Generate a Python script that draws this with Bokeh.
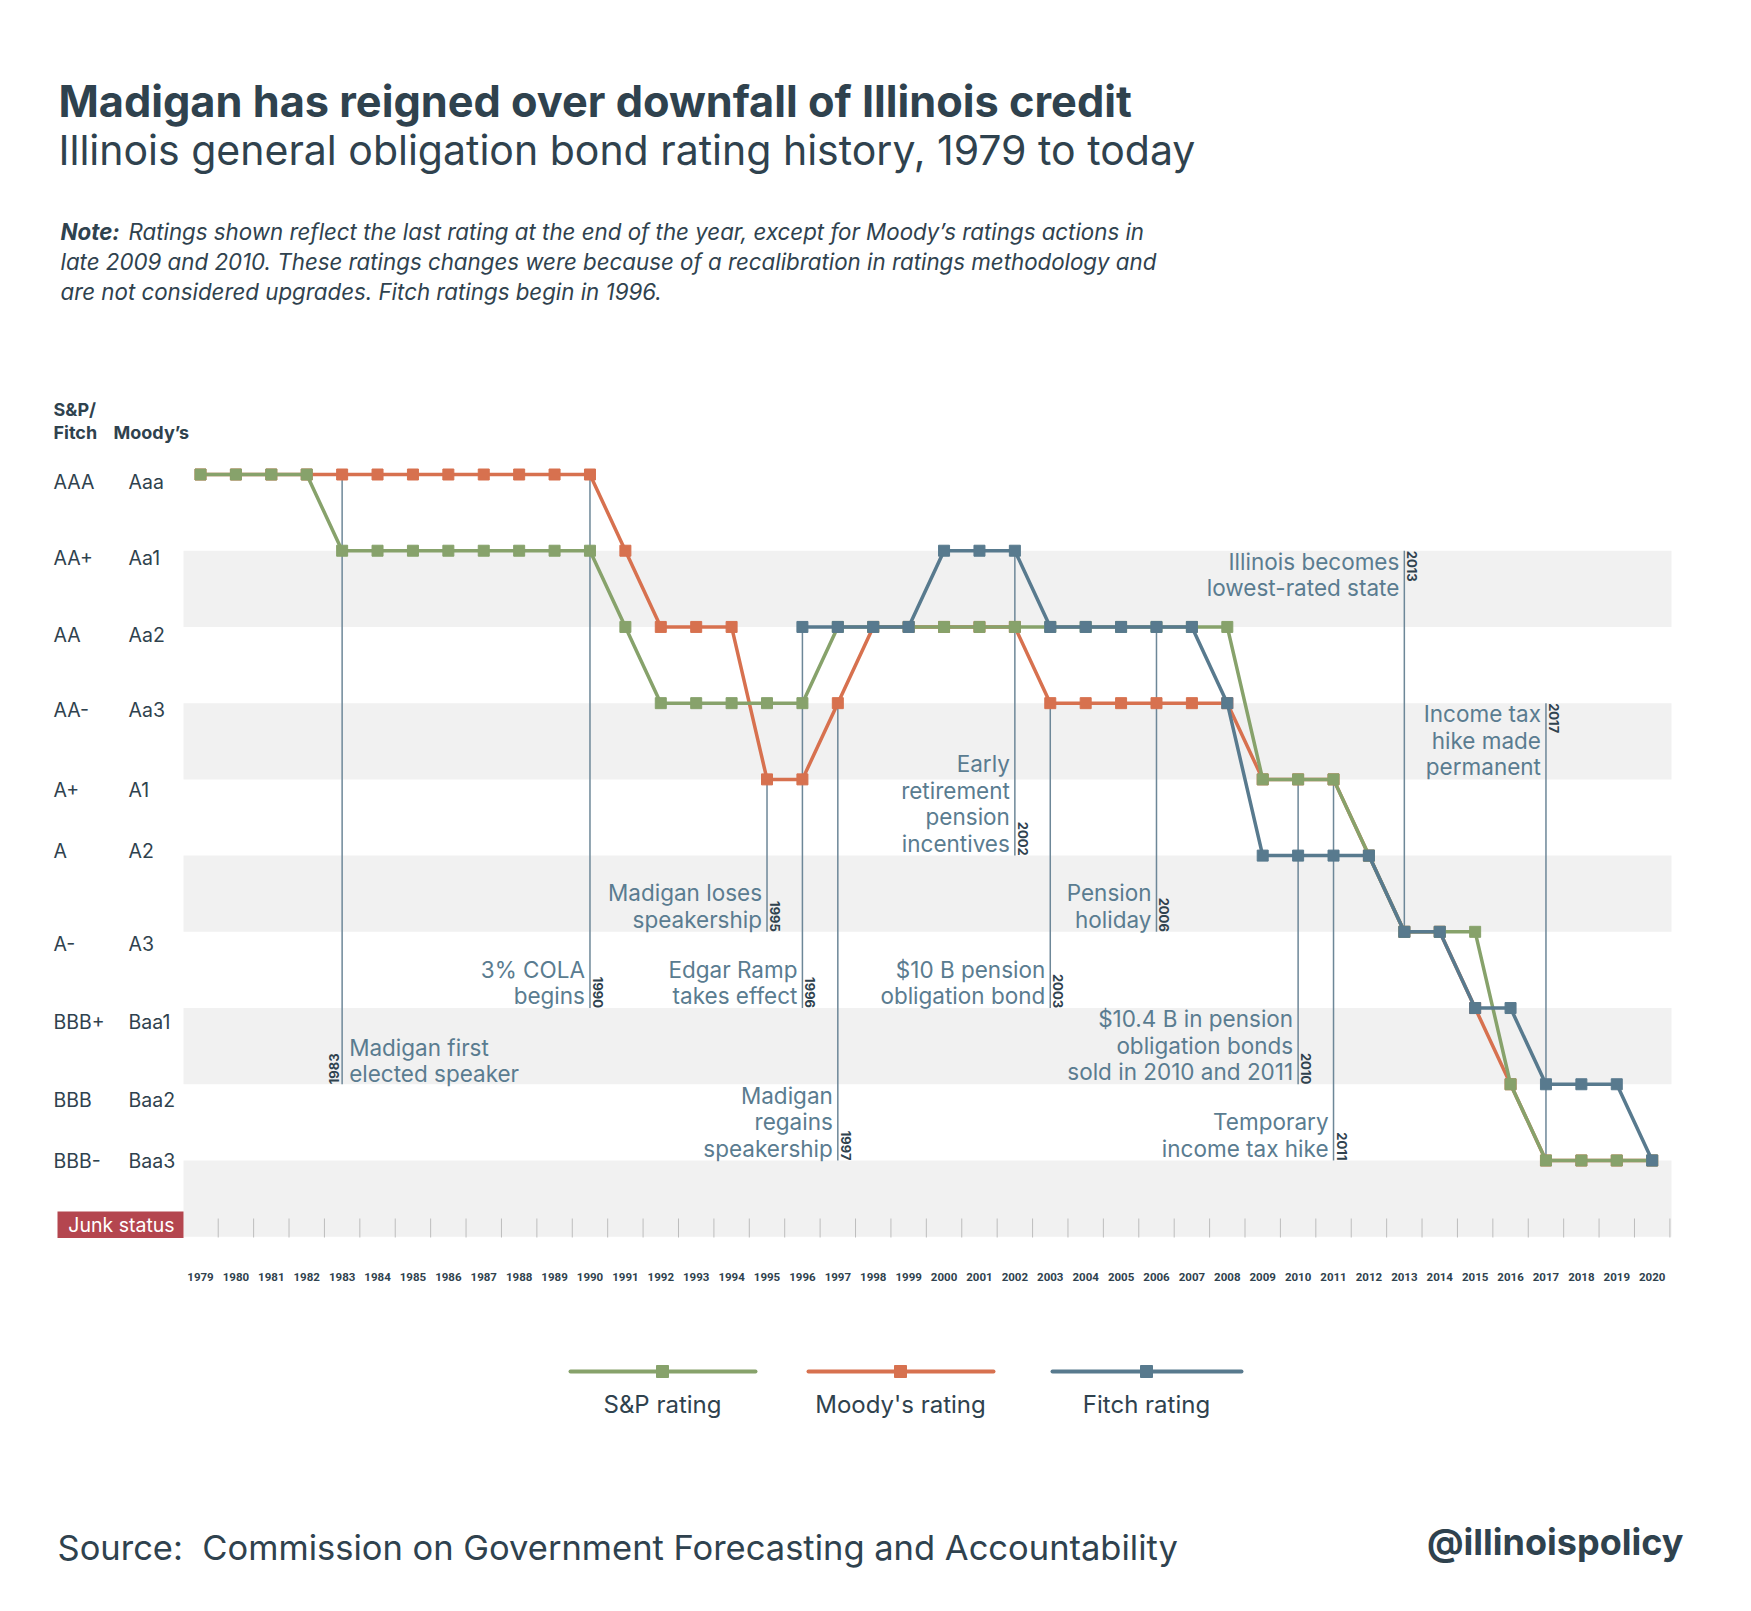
import math
from bokeh.plotting import figure
from bokeh.models import Range1d, ColumnDataSource
from bokeh.core.properties import value
from bokeh.embed import file_html
from bokeh.resources import INLINE

# ---------------- data ----------------
years = list(range(1979, 2021))

sp_rating = ["AAA", "AAA", "AAA", "AAA",                                   # 1979-1982
             "AA+", "AA+", "AA+", "AA+", "AA+", "AA+", "AA+", "AA+",       # 1983-1990
             "AA",                                                         # 1991
             "AA-", "AA-", "AA-", "AA-", "AA-",                            # 1992-1996
             "AA", "AA", "AA", "AA", "AA", "AA", "AA", "AA", "AA", "AA", "AA", "AA",  # 1997-2008
             "A+", "A+", "A+",                                             # 2009-2011
             "A", "A-", "A-", "A-", "BBB",                                 # 2012-2016
             "BBB-", "BBB-", "BBB-", "BBB-"]                               # 2017-2020

moodys_rating = ["Aaa", "Aaa", "Aaa", "Aaa", "Aaa", "Aaa", "Aaa", "Aaa", "Aaa", "Aaa", "Aaa", "Aaa",  # 1979-1990
                 "Aa1",                                                    # 1991
                 "Aa2", "Aa2", "Aa2",                                      # 1992-1994
                 "A1", "A1",                                               # 1995-1996
                 "Aa3",                                                    # 1997
                 "Aa2", "Aa2", "Aa2", "Aa2", "Aa2",                        # 1998-2002
                 "Aa3", "Aa3", "Aa3", "Aa3", "Aa3", "Aa3",                 # 2003-2008
                 "A1", "A1", "A1",                                         # 2009-2011
                 "A2", "A3", "A3", "Baa1", "Baa2",                         # 2012-2016
                 "Baa3", "Baa3", "Baa3", "Baa3"]                           # 2017-2020

fitch_rating = [None] * 17 + [                                             # 1979-1995: none
                "AA", "AA", "AA", "AA",                                    # 1996-1999
                "AA+", "AA+", "AA+",                                       # 2000-2002
                "AA", "AA", "AA", "AA", "AA",                              # 2003-2007
                "AA-",                                                     # 2008
                "A", "A", "A", "A",                                        # 2009-2012
                "A-", "A-",                                                # 2013-2014
                "BBB+", "BBB+",                                            # 2015-2016
                "BBB", "BBB", "BBB",                                       # 2017-2019
                "BBB-"]                                                    # 2020

sp_scale = ["AAA", "AA+", "AA", "AA-", "A+", "A", "A-", "BBB+", "BBB", "BBB-"]
moodys_scale = ["Aaa", "Aa1", "Aa2", "Aa3", "A1", "A2", "A3", "Baa1", "Baa2", "Baa3"]

event_years = [1983, 1990, 1995, 1996, 1997, 2002, 2003, 2006, 2010, 2011, 2013, 2017]
event_texts = [
    ["Madigan first", "elected speaker"],
    ["3% COLA", "begins"],
    ["Madigan loses", "speakership"],
    ["Edgar Ramp", "takes effect"],
    ["Madigan", "regains", "speakership"],
    ["Early", "retirement", "pension", "incentives"],
    ["$10 B pension", "obligation bond"],
    ["Pension", "holiday"],
    ["$10.4 B in pension", "obligation bonds", "sold in 2010 and 2011"],
    ["Temporary", "income tax hike"],
    ["Illinois becomes", "lowest-rated state"],
    ["Income tax", "hike made", "permanent"],
]
# layout of the event markers (rating level of top / bottom of the rule, where the text sits)
event_top = ["Aaa", "Aaa", "A1", "Aa2", "Aa3", "Aa1", "Aa3", "Aa2", "A1", "A1", "Aa1", "Aa3"]
event_bottom = ["Baa2", "Baa1", "A3", "Baa1", "Baa3", "A2", "Baa1", "A3", "Baa2", "Baa3", "A3", "Baa3"]
event_anchor = ["bottom"] * 10 + ["top", "top"]

series_names = ["S&P rating", "Moody's rating", "Fitch rating"]

title = "Madigan has reigned over downfall of Illinois credit"
subtitle = "Illinois general obligation bond rating history, 1979 to today"
note_lines = ["Ratings shown reflect the last rating at the end of the year, except for Moody\u2019s ratings actions in",
              "late 2009 and 2010. These ratings changes were because of a recalibration in ratings methodology and",
              "are not considered upgrades. Fitch ratings begin in 1996."]
source = "Source:\u00a0 Commission on Government Forecasting and Accountability"
handle = "@illinoispolicy"

# ---------------- styling ----------------
GREEN = "#87a26b"
RED = "#d7714f"
BLUE = "#587a8e"
DARK = "#2f424e"
ANN = "#5a7c90"
RULE = "#6d8798"
BAND = "#f1f1f1"
JUNK = "#b4464f"
FONT = value("Inter")

W, H = 1751, 1611
X0_PX, DX = 200.0, 35.407      # pixel of 1979, pixels per year
Y0_PX, DY = 474.0, 76.22       # pixel of top rating, pixels per notch


def px2x(px):
    return 1979 + (px - X0_PX) / DX


def px2y(py):
    return 10 - (py - Y0_PX) / DY


def y2px(v):
    return Y0_PX + (10 - v) * DY


def x2px(x):
    return X0_PX + (x - 1979) * DX


def bl(py, fs):
    # baseline correction for rendered alphabetic text
    return px2y(py - 0.33 * fs)


lvl = {}
for i, (s, m) in enumerate(zip(sp_scale, moodys_scale)):
    lvl[s] = 10 - i
    lvl[m] = 10 - i


def to_num(lst):
    return [lvl[r] if r is not None else float("nan") for r in lst]


p = figure(width=W, height=H, x_range=Range1d(px2x(0), px2x(W)), y_range=Range1d(px2y(H), px2y(0)),
           output_backend="svg", toolbar_location=None, x_axis_type=None, y_axis_type=None,
           min_border=0, background_fill_color="white", border_fill_color="white")
p.outline_line_color = None
p.grid.visible = False

# shaded bands
band_pairs = [(9, 8), (7, 6), (5, 4), (3, 2), (1, 0)]
p.quad(left=[px2x(183)] * 5, right=[px2x(1671)] * 5,
       top=[a for a, b in band_pairs], bottom=[b for a, b in band_pairs],
       fill_color=BAND, line_color=None)

# junk status box
p.quad(left=[px2x(57)], right=[px2x(183)], top=[px2y(1211)], bottom=[px2y(1237.5)],
       fill_color=JUNK, line_color=None)
p.text(x=[px2x(121)], y=[px2y(1224)], text=["Junk status"], text_font=FONT, text_font_size="19.5px",
       text_color="white", text_align="center", text_baseline="middle")

# tick marks between years
tick_x = [y + 0.5 for y in years]
p.segment(x0=tick_x, x1=tick_x, y0=[px2y(1218)] * len(tick_x), y1=[px2y(1237)] * len(tick_x),
          line_color="#bdbdbd", line_width=1)

# year labels
p.text(x=years, y=[px2y(1276)] * len(years), text=[str(y) for y in years], text_font=value("Roboto"),
       text_font_size="11.5px", text_font_style="bold", text_color=DARK, text_align="center",
       text_baseline="middle")

# rating labels
FS_LAB = 19.5
label_dy = [14, 14, 14, 13, 17, 2, 19, 20, 22, 7]
lab_y = [bl(y2px(10 - i) + label_dy[i], FS_LAB) for i in range(10)]
p.text(x=[px2x(53)] * 10, y=lab_y, text=sp_scale, text_font=FONT, text_font_size=f"{FS_LAB}px",
       text_color=DARK, text_baseline="alphabetic")
p.text(x=[px2x(128)] * 10, y=lab_y, text=moodys_scale, text_font=FONT, text_font_size=f"{FS_LAB}px",
       text_color=DARK, text_baseline="alphabetic")
p.text(x=[px2x(53), px2x(53), px2x(113)], y=[bl(415, 18), bl(438, 18), bl(438, 18)],
       text=["S&P/", "Fitch", "Moody\u2019s"], text_font=FONT, text_font_size="18px",
       text_font_style="bold", text_color=DARK, text_baseline="alphabetic")

# event rules
p.segment(x0=event_years, x1=event_years, y0=[lvl[t] for t in event_top], y1=[lvl[b] for b in event_bottom],
          line_color=RULE, line_width=1.5)

# event texts and year tags
FS_ANN = 22.5
tx, ty, tt, ta = [], [], [], []
yx, yy, yt, yang, yal = [], [], [], [], []
LS = 26.5
for yr, lines, top, bot, anc in zip(event_years, event_texts, event_top, event_bottom, event_anchor):
    lx = x2px(yr)
    if yr == 1983:
        base = y2px(lvl[bot]) - 3
        for k, line in enumerate(lines):
            tx.append(px2x(lx + 7)); ty.append(bl(base - (len(lines) - 1 - k) * LS, FS_ANN)); tt.append(line); ta.append("left")
        yx.append(px2x(lx - 3)); yy.append(lvl[bot]); yt.append(str(yr)); yang.append(math.pi / 2); yal.append("left")
    elif anc == "bottom":
        base = y2px(lvl[bot]) - 5
        for k, line in enumerate(lines):
            tx.append(px2x(lx - 5)); ty.append(bl(base - (len(lines) - 1 - k) * LS, FS_ANN)); tt.append(line); ta.append("right")
        yx.append(px2x(lx + 3)); yy.append(lvl[bot]); yt.append(str(yr)); yang.append(-math.pi / 2); yal.append("right")
    else:
        base = y2px(lvl[top]) + 18
        for k, line in enumerate(lines):
            tx.append(px2x(lx - 5)); ty.append(bl(base + k * LS, FS_ANN)); tt.append(line); ta.append("right")
        yx.append(px2x(lx + 3)); yy.append(lvl[top]); yt.append(str(yr)); yang.append(-math.pi / 2); yal.append("left")

p.text(x="x", y="y", text="t", text_align="a", source=ColumnDataSource(dict(x=tx, y=ty, t=tt, a=ta)),
       text_font=FONT, text_font_size=f"{FS_ANN}px", text_color=ANN, text_baseline="alphabetic")
p.text(x="x", y="y", text="t", angle="ang", text_align="a",
       source=ColumnDataSource(dict(x=yx, y=yy, t=yt, ang=yang, a=yal)),
       text_font=FONT, text_font_size="13px", text_font_style="bold", text_color=DARK,
       text_baseline="bottom")

# rating series: Moody's under S&P under Fitch
for vals, col in [(moodys_rating, RED), (sp_rating, GREEN), (fitch_rating, BLUE)]:
    src = ColumnDataSource(dict(x=years, y=to_num(vals)))
    p.line("x", "y", source=src, line_color=col, line_width=3.5)
    p.scatter("x", "y", source=src, marker="square", size=11, fill_color=col, line_color=col)

# legend
leg_cols = [GREEN, RED, BLUE]
leg_l = [570, 808, 1052]
leg_r = [755, 993, 1241]
leg_c = [662, 900, 1146]
ly = px2y(1371)
for c, l, r, m, name in zip(leg_cols, leg_l, leg_r, leg_c, series_names):
    p.line([px2x(l), px2x(r)], [ly, ly], line_color=c, line_width=4, line_cap="round")
    p.scatter([px2x(m)], [ly], marker="square", size=12, fill_color=c, line_color=c)
    p.text([px2x(m)], [bl(1412, 24)], text=[name], text_font=FONT, text_font_size="24px", text_color=DARK,
           text_align="center", text_baseline="alphabetic")

# titles
p.text([px2x(58)], [bl(115, 43.3)], text=[title], text_font=FONT, text_font_size="43.3px",
       text_font_style="bold", text_color=DARK, text_baseline="alphabetic")
p.text([px2x(58)], [bl(163, 41)], text=[subtitle], text_font=FONT, text_font_size="41px",
       text_color=DARK, text_baseline="alphabetic")
p.text([px2x(60)], [bl(238, 22.3)], text=["Note:"], text_font=FONT, text_font_size="22.3px",
       text_font_style="bold italic", text_color=DARK, text_baseline="alphabetic")
p.text([px2x(128), px2x(60), px2x(60)], [bl(238, 22.3), bl(268, 22.3), bl(298, 22.3)], text=note_lines,
       text_font=FONT, text_font_size="22.3px", text_font_style="italic", text_color=DARK,
       text_baseline="alphabetic")
p.text([px2x(57)], [bl(1558, 34.5)], text=[source], text_font=FONT, text_font_size="34.5px",
       text_color=DARK, text_baseline="alphabetic")
p.text([px2x(1683)], [bl(1553, 36)], text=[handle], text_font=FONT, text_font_size="36px",
       text_font_style="bold", text_color=DARK, text_align="right", text_baseline="alphabetic")

open("out.html", "w").write(file_html(p, INLINE))
